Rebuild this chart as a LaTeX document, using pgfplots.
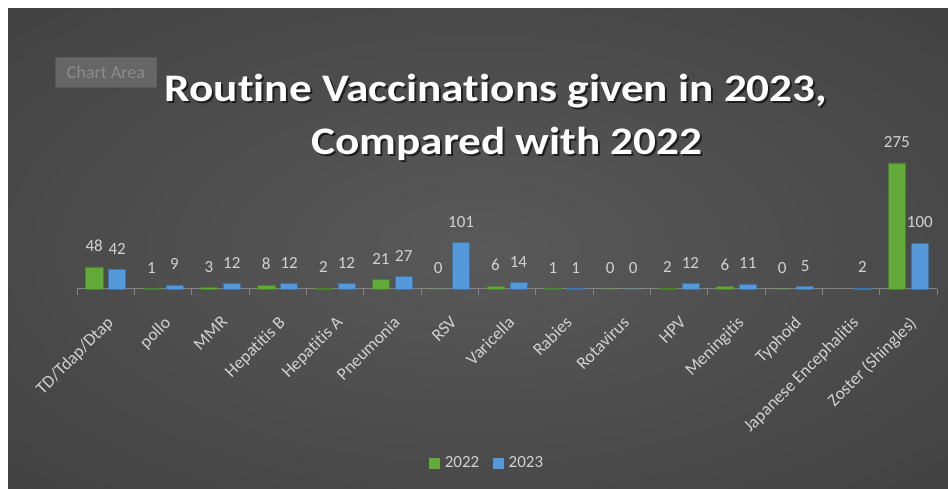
\documentclass[border=0pt]{standalone}
\usepackage{pgfplots}
\pgfplotsset{compat=1.18}
\usepackage{fontspec}
\setmainfont{Carlito}[Ligatures=NoCommon]
\newfontfamily\titlefont[FakeStretch=1.16,Ligatures=NoCommon]{Carlito}
\definecolor{bgin}{HTML}{595959}
\definecolor{bgout}{HTML}{2A2A2A}
\definecolor{g22}{HTML}{64AA3B}
\definecolor{b23}{HTML}{5599DB}
\definecolor{lbl}{HTML}{D2D2D2}
\definecolor{axc}{HTML}{858585}
\definecolor{boxc}{HTML}{666666}
\definecolor{boxt}{HTML}{8C8C8C}
\pgfdeclareradialshading{bgshade}{\pgfpoint{0bp}{0bp}}{color(0bp)=(bgin); color(72bp)=(bgout)}
\pgfplotstableread{
x y
0 48
1 1
2 3
3 8
4 2
5 21
6 0
7 6
8 1
9 0
10 2
11 6
12 0
14 275
}\datatwentytwo
\pgfplotstableread{
x y
0 42
1 9
2 12
3 12
4 12
5 27
6 101
7 14
8 1
9 0
10 12
11 11
12 5
13 2
14 100
}\datatwentythree
\begin{document}
\begin{tikzpicture}[x=1pt,y=1pt]
\fill[white] (0,0) rectangle (948,489);
\shade[shading=bgshade] (8,0) rectangle (948,480);
% title with shadow
\node[anchor=base, text=black, opacity=0.6, font=\titlefont\bfseries\fontsize{39}{46}\selectfont] at (498,385) {Routine Vaccinations given in 2023,};
\node[anchor=base, text=white, font=\titlefont\bfseries\fontsize{39}{46}\selectfont] at (496,387) {Routine Vaccinations given in 2023,};
\node[anchor=base, text=black, opacity=0.6, font=\titlefont\bfseries\fontsize{39}{46}\selectfont] at (509,332) {Compared with 2022};
\node[anchor=base, text=white, font=\titlefont\bfseries\fontsize{39}{46}\selectfont] at (507,334) {Compared with 2022};
% chart area tooltip
\node[fill=boxc, draw=black!60, rounded corners=1pt, text=boxt, font=\fontsize{18}{20}\selectfont, minimum width=101pt, minimum height=30pt, inner sep=0pt] at (106,416.5) {Chart Area};
\begin{axis}[
  at={(77pt,200pt)}, anchor=south west,
  scale only axis, width=860pt, height=137.5pt,
  xmin=-0.5, xmax=14.5, ymin=0, ymax=300,
  axis x line*=bottom, axis y line=none,
  x axis line style={axc, line width=1pt, -},
  ytick=\empty,
  xtick={0,...,14},
  xticklabels={TD/Tdap/Dtap, pollo, MMR, Hepatitis B, Hepatitis A, Pneumonia, RSV, Varicella, Rabies, Rotavirus, HPV, Meningitis, Typhoid, Japanese Encephalitis, Zoster (Shingles)},
  major tick length=0pt,
  extra x ticks={-0.5,0.5,...,14.5},
  extra x tick labels={},
  extra x tick style={major tick length=6pt, tick align=outside, tick style={axc, line width=0.8pt}},
  xticklabel shift=26pt,
  xticklabel style={anchor=north east, rotate=45, font=\fontsize{17.5}{19}\selectfont, text=lbl, inner sep=0pt},
  /pgf/number format/assume math mode=true,
  ybar, bar width=0.3,
  nodes near coords,
  nodes near coords style={font=\fontsize{17}{18}\selectfont, text=lbl, anchor=south, inner sep=0pt, yshift=15pt},
  clip=false,
  legend style={at={(0.477,-1.265)}, anchor=center, legend columns=2, draw=none, fill=none, text=lbl, font=\fontsize{17}{18}\selectfont,
    /tikz/every odd column/.append style={column sep=3pt},
    /tikz/every even column/.append style={column sep=12pt}},
]
\addplot[ybar, bar shift=-0.2, fill=g22, draw=g22!75!black, line width=0.5pt,
  legend image code/.code={\fill[g22] (0pt,-5pt) rectangle (10pt,5pt);}] table[x=x,y=y] {\datatwentytwo};
\addplot[ybar, bar shift=0.2, fill=b23, draw=b23!75!black, line width=0.5pt,
  legend image code/.code={\fill[b23] (0pt,-5pt) rectangle (10pt,5pt);}] table[x=x,y=y] {\datatwentythree};
\legend{2022, 2023}
\end{axis}
\pgfresetboundingbox
\path[use as bounding box] (0,0) rectangle (948,489);
\end{tikzpicture}
\end{document}
